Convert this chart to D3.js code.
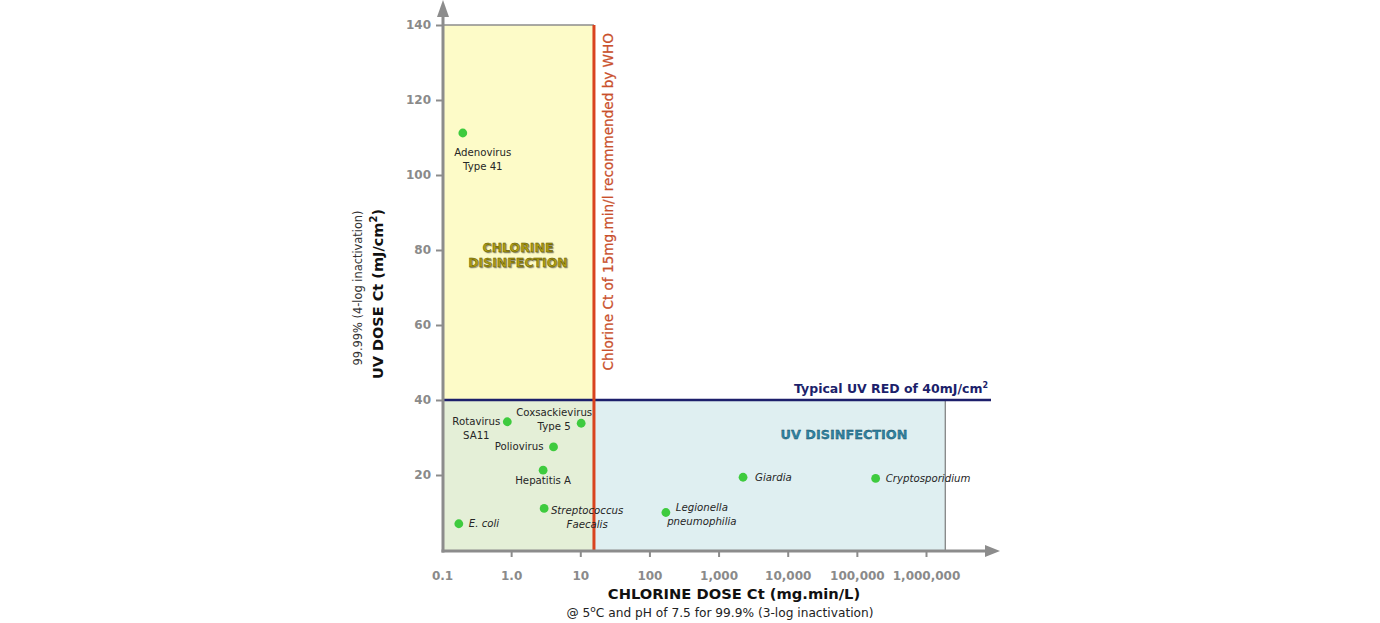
<!DOCTYPE html>
<html>
<head>
<meta charset="utf-8">
<script src="https://cdn.jsdelivr.net/npm/d3@7"></script>
<style>
  html, body { margin: 0; padding: 0; background: #fff; }
  svg { display: block; font-family: "DejaVu Sans", sans-serif; }
  .pt-label { fill: #262626; }
</style>
</head>
<body>
<div id="chart"></div>
<script>
// pathogens and the dose needed for each
const pathogens = ["Adenovirus Type 41", "Rotavirus SA11", "Coxsackievirus Type 5", "Poliovirus",
  "Hepatitis A", "Streptococcus Faecalis", "E. coli", "Legionella pneumophilia", "Giardia", "Cryptosporidium"];
const chlorineCt = [0.2, 0.88, 10.3, 4.1, 2.9, 3.0, 0.175, 173, 2260, 187000];
const uvDose = [111.2, 34.2, 33.8, 27.5, 21.3, 11.1, 7.0, 10.0, 19.4, 19.1];

// reference levels
const whoChlorineCt = 15;
const typicalUvRed = 40;
const uvBoxMaxCt = 1.9e6;

// tick labels
const xTickValues = [0.1, 1, 10, 100, 1000, 10000, 100000, 1000000];
const xTickLabels = ["0.1", "1.0", "10", "100", "1,000", "10,000", "100,000", "1,000,000"];
const yTickValues = [20, 40, 60, 80, 100, 120, 140];

// how each name is set next to its dot: lines, dx, dy, anchor, italic
const labelLayout = {
  "Adenovirus Type 41": { lines: ["Adenovirus", "Type 41"], dx: 20, dy: 23, anchor: "middle" },
  "Rotavirus SA11": { lines: ["Rotavirus", "SA11"], dx: -31, dy: 3, anchor: "middle" },
  "Coxsackievirus Type 5": { lines: ["Coxsackievirus", "Type 5"], dx: -27, dy: -7, anchor: "middle" },
  "Poliovirus": { lines: ["Poliovirus"], dx: -10, dy: 3.5, anchor: "end" },
  "Hepatitis A": { lines: ["Hepatitis A"], dx: 0, dy: 14, anchor: "middle" },
  "Streptococcus Faecalis": { lines: ["Streptococcus", "Faecalis"], dx: 43, dy: 5.5, anchor: "middle", italic: true },
  "E. coli": { lines: ["E. coli"], dx: 10, dy: 3.5, anchor: "start", italic: true },
  "Legionella pneumophilia": { lines: ["Legionella", "pneumophilia"], dx: 36, dy: -2, anchor: "middle", italic: true },
  "Giardia": { lines: ["Giardia"], dx: 12, dy: 3.5, anchor: "start", italic: true },
  "Cryptosporidium": { lines: ["Cryptosporidium"], dx: 10, dy: 3.5, anchor: "start", italic: true }
};

const width = 1380, height = 623;
const svg = d3.select("#chart").append("svg")
  .attr("width", width)
  .attr("height", height);

const x = d3.scaleLog().domain([0.1, 1e6]).range([442, 926]);
const y = d3.scaleLinear().domain([0, 140]).range([550, 25]);

const axisX0 = 443, axisY0 = 551;
const whoX = x(whoChlorineCt) + 1.5;

// background regions
svg.append("rect") // chlorine disinfection
  .attr("x", x(0.1)).attr("y", y(140))
  .attr("width", whoX - x(0.1))
  .attr("height", y(typicalUvRed) - y(140))
  .attr("fill", "#fdfbc8");
svg.append("line")
  .attr("x1", x(0.1)).attr("x2", whoX)
  .attr("y1", y(140)).attr("y2", y(140))
  .attr("stroke", "#8c8c8c").attr("stroke-width", 1.5);
svg.append("rect") // both work
  .attr("x", x(0.1)).attr("y", y(typicalUvRed))
  .attr("width", whoX - x(0.1))
  .attr("height", y(0) - y(typicalUvRed))
  .attr("fill", "#e4efd7");
svg.append("rect") // uv disinfection
  .attr("x", whoX).attr("y", y(typicalUvRed))
  .attr("width", x(uvBoxMaxCt) - whoX)
  .attr("height", y(0) - y(typicalUvRed))
  .attr("fill", "#dfeff1");
svg.append("line")
  .attr("x1", x(uvBoxMaxCt)).attr("x2", x(uvBoxMaxCt))
  .attr("y1", y(typicalUvRed)).attr("y2", y(0))
  .attr("stroke", "#7a7a7a").attr("stroke-width", 1.2);

// region titles
const chl = svg.append("text")
  .attr("text-anchor", "middle")
  .attr("font-size", 12.5).attr("font-weight", "bold")
  .attr("fill", "#b9a813").attr("stroke", "#4d4600").attr("stroke-width", 0.35)
  .style("text-shadow", "1px 1px 1px rgba(0,0,0,0.35)");
chl.append("tspan").attr("x", 518).attr("y", 252).text("CHLORINE");
chl.append("tspan").attr("x", 518).attr("y", 267).text("DISINFECTION");

svg.append("text")
  .attr("x", 844).attr("y", 439)
  .attr("text-anchor", "middle")
  .attr("font-size", 12.8).attr("font-weight", "bold")
  .attr("fill", "#2f84a3").attr("stroke", "#173f50").attr("stroke-width", 0.3)
  .text("UV DISINFECTION");

// reference lines
svg.append("line")
  .attr("x1", x(0.1)).attr("x2", 991)
  .attr("y1", y(typicalUvRed)).attr("y2", y(typicalUvRed))
  .attr("stroke", "#1c1f6b").attr("stroke-width", 2.5);
const red = svg.append("text")
  .attr("x", 988).attr("y", y(typicalUvRed) - 7)
  .attr("text-anchor", "end")
  .attr("font-size", 12.5).attr("font-weight", "bold")
  .attr("fill", "#1c1f6b");
red.append("tspan").text("Typical UV RED of 40mJ/cm");
red.append("tspan").attr("dy", -5).attr("font-size", 8).text("2");

svg.append("line")
  .attr("x1", whoX).attr("x2", whoX)
  .attr("y1", y(140)).attr("y2", axisY0)
  .attr("stroke", "#d9431f").attr("stroke-width", 3);
svg.append("text")
  .attr("transform", `translate(${whoX + 19},33) rotate(-90)`)
  .attr("text-anchor", "end")
  .attr("font-size", 13.6)
  .attr("fill", "#c9502c")
  .attr("stroke", "#c9502c").attr("stroke-width", 0.25)
  .text("Chlorine Ct of 15mg.min/l recommended by WHO");

// axes
const xAxis = d3.axisBottom(x)
  .tickValues(xTickValues)
  .tickSize(6)
  .tickPadding(14)
  .tickFormat((d, i) => xTickLabels[i]);
const gx = svg.append("g")
  .attr("transform", `translate(0,${axisY0})`)
  .call(xAxis);
gx.select(".domain").remove();
gx.selectAll(".tick").filter(d => d === 0.1).select("line").remove();

const yAxis = d3.axisLeft(y)
  .tickValues(yTickValues)
  .tickSize(6)
  .tickPadding(5);
const gy = svg.append("g")
  .attr("transform", `translate(${axisX0 - 1},0)`)
  .call(yAxis);
gy.select(".domain").remove();

svg.selectAll(".tick text")
  .attr("font-family", "DejaVu Sans, sans-serif")
  .attr("font-size", 12)
  .attr("font-weight", "bold")
  .attr("fill", "#8a8a8a");
svg.selectAll(".tick line")
  .attr("stroke", "#8c8c8c")
  .attr("stroke-width", 2);

svg.append("line")
  .attr("x1", axisX0).attr("x2", axisX0)
  .attr("y1", 12).attr("y2", axisY0 + 1.5)
  .attr("stroke", "#8c8c8c").attr("stroke-width", 3);
svg.append("line")
  .attr("x1", axisX0 - 1.5).attr("x2", 988)
  .attr("y1", axisY0).attr("y2", axisY0)
  .attr("stroke", "#8c8c8c").attr("stroke-width", 3);
svg.append("path")
  .attr("d", `M${axisX0},0 L${axisX0 + 6},17 L${axisX0 - 6},17 Z`)
  .attr("fill", "#8c8c8c");
svg.append("path")
  .attr("d", `M1000,${axisY0} L985,${axisY0 - 6} L985,${axisY0 + 6} Z`)
  .attr("fill", "#8c8c8c");

// axis titles
svg.append("text")
  .attr("x", 734).attr("y", 599)
  .attr("text-anchor", "middle")
  .attr("font-size", 14.7).attr("font-weight", "bold")
  .attr("fill", "#111")
  .text("CHLORINE DOSE Ct (mg.min/L)");
const sub = svg.append("text")
  .attr("x", 720).attr("y", 617)
  .attr("text-anchor", "middle")
  .attr("font-size", 12.2)
  .attr("fill", "#222");
sub.append("tspan").text("@ 5");
sub.append("tspan").attr("dy", -5).attr("font-size", 9).text("o");
sub.append("tspan").attr("dy", 5).text("C and pH of 7.5 for 99.9% (3-log inactivation)");

svg.append("text")
  .attr("transform", "translate(362,288) rotate(-90)")
  .attr("text-anchor", "middle")
  .attr("font-size", 11.4)
  .attr("fill", "#333")
  .text("99.99% (4-log inactivation)");
const yt = svg.append("text")
  .attr("transform", "translate(383,294) rotate(-90)")
  .attr("text-anchor", "middle")
  .attr("font-size", 14.5).attr("font-weight", "bold")
  .attr("fill", "#111");
yt.append("tspan").text("UV DOSE Ct (mJ/cm");
yt.append("tspan").attr("dy", -6).attr("font-size", 10).text("2");
yt.append("tspan").attr("dy", 6).text(")");

// points
const pts = pathogens.map((name, i) => ({ name, ct: chlorineCt[i], uv: uvDose[i] }));

svg.selectAll(".dot")
  .data(pts)
  .enter()
  .append("circle")
  .attr("class", "dot")
  .attr("cx", d => x(d.ct))
  .attr("cy", d => y(d.uv))
  .attr("r", 4.4)
  .attr("fill", "#3ecb3e");

const labels = svg.selectAll(".pt-label")
  .data(pts)
  .enter()
  .append("text")
  .attr("class", "pt-label")
  .attr("font-size", 10.2)
  .attr("text-anchor", d => labelLayout[d.name].anchor)
  .attr("font-style", d => labelLayout[d.name].italic ? "italic" : null);

labels.each(function (d) {
  const lay = labelLayout[d.name];
  const t = d3.select(this);
  lay.lines.forEach((ln, j) => {
    t.append("tspan")
      .attr("x", x(d.ct) + lay.dx)
      .attr("y", y(d.uv) + lay.dy + j * 14)
      .text(ln);
  });
});
</script>
</body>
</html>
